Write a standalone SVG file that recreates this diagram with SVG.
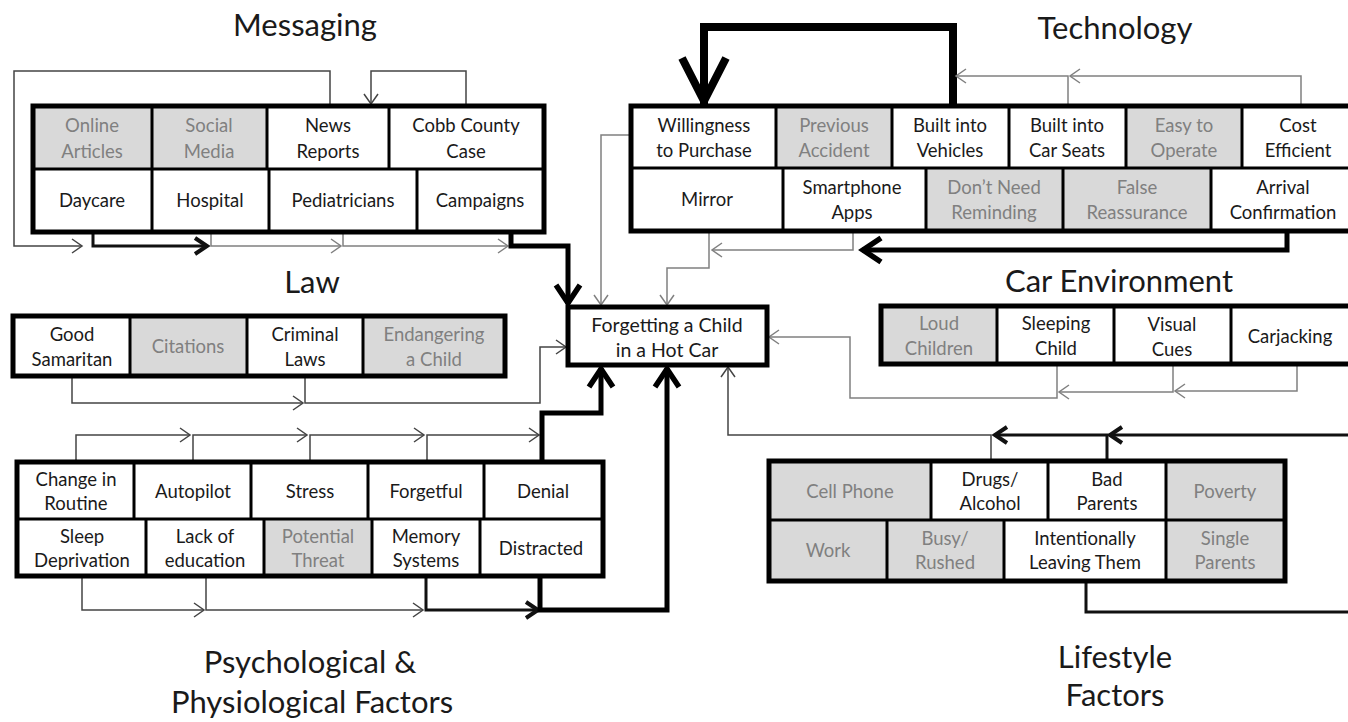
<svg xmlns="http://www.w3.org/2000/svg" width="1348" height="722" viewBox="0 0 1348 722">
<style>
.bg{fill:#fff}
.w{fill:#fff}
.g{fill:#d9d9d9}
.out{fill:none;stroke:#000;stroke-width:5}
.sep{stroke:#000;stroke-width:3;fill:none}
.t{font-family:Lato,"Open Sans","Liberation Sans",sans-serif;font-size:18.5px;fill:#1a1a1a;text-anchor:middle;dominant-baseline:central}
.tg{font-family:Lato,"Open Sans","Liberation Sans",sans-serif;font-size:18.5px;fill:#808080;text-anchor:middle;dominant-baseline:central}
.title{font-family:Lato,"Open Sans","Liberation Sans",sans-serif;font-size:31px;fill:#1a1a1a;text-anchor:middle}
.c{fill:none;stroke:#444;stroke-width:1.5}
.cg{fill:none;stroke:#808080;stroke-width:1.5}
.cm{fill:none;stroke:#111;stroke-width:3}
.cb{fill:none;stroke:#000;stroke-width:5}
.cx{fill:none;stroke:#000;stroke-width:8}
</style>
<defs>
<marker id="a" markerUnits="userSpaceOnUse" markerWidth="20" markerHeight="20" refX="0" refY="0" orient="auto" overflow="visible"><path d="M-10,-7 L0,0 L-10,7" fill="none" stroke="#444" stroke-width="1.5"/></marker>
<marker id="ag" markerUnits="userSpaceOnUse" markerWidth="20" markerHeight="20" refX="0" refY="0" orient="auto" overflow="visible"><path d="M-10,-7 L0,0 L-10,7" fill="none" stroke="#808080" stroke-width="1.5"/></marker>
<marker id="am" markerUnits="userSpaceOnUse" markerWidth="20" markerHeight="20" refX="0" refY="0" orient="auto" overflow="visible"><path d="M-12,-8 L0,0 L-12,8" fill="none" stroke="#111" stroke-width="4"/></marker>
<marker id="ab" markerUnits="userSpaceOnUse" markerWidth="20" markerHeight="20" refX="0" refY="0" orient="auto" overflow="visible"><path d="M-19,-12 L-1,0 L-19,12" fill="none" stroke="#000" stroke-width="5.5"/></marker>
<marker id="ax" markerUnits="userSpaceOnUse" markerWidth="20" markerHeight="20" refX="0" refY="0" orient="auto" overflow="visible"><path d="M-46,-22 L-3,0 L-46,22" fill="none" stroke="#000" stroke-width="8"/></marker>
</defs>
<rect class="bg" x="0" y="0" width="1348" height="722"/>

<g id="titles">
<text class="title" x="305" y="36">Messaging</text>
<text class="title" x="1115" y="39">Technology</text>
<text class="title" x="312" y="293">Law</text>
<text class="title" x="1119" y="292">Car Environment</text>
<text class="title" x="310" y="673">Psychological &amp;</text>
<text class="title" x="312" y="713">Physiological Factors</text>
<text class="title" x="1115" y="668">Lifestyle</text>
<text class="title" x="1115" y="706">Factors</text>
</g>

<g id="connectors">
<!-- Messaging -->
<path class="c" d="M330,106 V71 H14 V246 H82" marker-end="url(#a)"/>
<path class="c" d="M466,106 V71 H371 V104" marker-end="url(#a)"/>
<path class="cm" d="M93,232 V246 H207" marker-end="url(#am)"/>
<path class="cg" d="M211,232 V246 H341" marker-end="url(#ag)"/>
<path class="cg" d="M343,232 V246 H508" marker-end="url(#ag)"/>
<path class="cb" d="M511,232 V246 H568 V304" marker-end="url(#ab)"/>
<!-- Technology -->
<path class="cx" d="M953,106 V27 H704 V104" marker-end="url(#ax)"/>
<path class="cg" d="M1301,106 V76 H1070" marker-end="url(#ag)"/>
<path class="cg" d="M1068,106 V76 H956" marker-end="url(#ag)"/>
<path class="cg" d="M631,135 H601 V305" marker-end="url(#ag)"/>
<path class="cg" d="M853,231 V250 H712" marker-end="url(#ag)"/>
<path class="cb" d="M1287,231 V250 H862" marker-end="url(#ab)"/>
<path class="cg" d="M709,231 V268 H667 V305" marker-end="url(#ag)"/>
<!-- Law -->
<path class="c" d="M72,376 V403 H303" marker-end="url(#a)"/>
<path class="c" d="M305,376 V403 H540 V347 H566" marker-end="url(#a)"/>
<!-- Car environment -->
<path class="cg" d="M1297,364 V391 H1175" marker-end="url(#ag)"/>
<path class="cg" d="M1173,366 V392 H1059" marker-end="url(#ag)"/>
<path class="cg" d="M1057,364 V398 H850 V337 H769" marker-end="url(#ag)"/>
<!-- Psych -->
<path class="c" d="M76,462 V435 H190" marker-end="url(#a)"/>
<path class="c" d="M193,462 V435 H307" marker-end="url(#a)"/>
<path class="c" d="M310,462 V435 H424" marker-end="url(#a)"/>
<path class="c" d="M427,462 V435 H539" marker-end="url(#a)"/>
<path class="cb" d="M542,462 V413 H601 V368" marker-end="url(#ab)"/>
<path class="c" d="M82,576 V610 H204" marker-end="url(#a)"/>
<path class="c" d="M206,576 V610 H423" marker-end="url(#a)"/>
<path class="cm" d="M426,576 V610 H538" marker-end="url(#am)"/>
<path class="cb" d="M540,576 V610 H667 V368" marker-end="url(#ab)"/>
<!-- Lifestyle -->
<path class="c" d="M991,461 V435 H728 V367" marker-end="url(#a)"/>
<path class="cm" d="M1107,461 V435 H995" marker-end="url(#am)"/>
<path class="cm" d="M1350,435 H1110" marker-end="url(#am)"/>
<path class="cm" d="M1086,581 V612 H1350"/>
</g>

<g id="messaging">
<rect class="w" x="33" y="106" width="511" height="126"/>
<rect class="g" x="33" y="106" width="119" height="63"/>
<rect class="g" x="152" y="106" width="115" height="63"/>
<path class="sep" d="M33,169 H544 M152,106 V169 M267,106 V169 M389,106 V169 M152,169 V232 M269,169 V232 M417,169 V232"/>
<rect class="out" x="33" y="106" width="511" height="126"/>
<text class="tg" x="92" y="125">Online</text><text class="tg" x="92" y="151">Articles</text>
<text class="tg" x="209" y="125">Social</text><text class="tg" x="209" y="151">Media</text>
<text class="t" x="328" y="125">News</text><text class="t" x="328" y="151">Reports</text>
<text class="t" x="466" y="125">Cobb County</text><text class="t" x="466" y="151">Case</text>
<text class="t" x="92" y="200">Daycare</text>
<text class="t" x="210" y="200">Hospital</text>
<text class="t" x="343" y="200">Pediatricians</text>
<text class="t" x="480" y="200">Campaigns</text>
</g>

<g id="technology">
<rect class="w" x="631" y="106" width="722" height="125"/>
<rect class="g" x="776" y="106" width="116" height="62"/>
<rect class="g" x="1126" y="106" width="116" height="62"/>
<rect class="g" x="926" y="168" width="137" height="63"/>
<rect class="g" x="1063" y="168" width="148" height="63"/>
<path class="sep" d="M631,168 H1352 M776,106 V168 M892,106 V168 M1009,106 V168 M1126,106 V168 M1242,106 V168 M783,168 V231 M926,168 V231 M1063,168 V231 M1211,168 V231"/>
<rect class="out" x="631" y="106" width="722" height="125"/>
<text class="t" x="704" y="125">Willingness</text><text class="t" x="704" y="150">to Purchase</text>
<text class="tg" x="834" y="125">Previous</text><text class="tg" x="834" y="150">Accident</text>
<text class="t" x="950" y="125">Built into</text><text class="t" x="950" y="150">Vehicles</text>
<text class="t" x="1067" y="125">Built into</text><text class="t" x="1067" y="150">Car Seats</text>
<text class="tg" x="1184" y="125">Easy to</text><text class="tg" x="1184" y="150">Operate</text>
<text class="t" x="1298" y="125">Cost</text><text class="t" x="1298" y="150">Efficient</text>
<text class="t" x="707" y="199">Mirror</text>
<text class="t" x="852" y="187">Smartphone</text><text class="t" x="852" y="212">Apps</text>
<text class="tg" x="994" y="187">Don’t Need</text><text class="tg" x="994" y="212">Reminding</text>
<text class="tg" x="1137" y="187">False</text><text class="tg" x="1137" y="212">Reassurance</text>
<text class="t" x="1283" y="187">Arrival</text><text class="t" x="1283" y="212">Confirmation</text>
</g>

<g id="law">
<rect class="w" x="13" y="316" width="492" height="60"/>
<rect class="g" x="130" y="316" width="117" height="60"/>
<rect class="g" x="363" y="316" width="142" height="60"/>
<path class="sep" d="M130,316 V376 M247,316 V376 M363,316 V376"/>
<rect class="out" x="13" y="316" width="492" height="60"/>
<text class="t" x="72" y="334">Good</text><text class="t" x="72" y="359">Samaritan</text>
<text class="tg" x="188" y="346">Citations</text>
<text class="t" x="305" y="334">Criminal</text><text class="t" x="305" y="359">Laws</text>
<text class="tg" x="434" y="334">Endangering</text><text class="tg" x="434" y="359">a Child</text>
</g>

<g id="center">
<rect class="w" x="568" y="307" width="199" height="58"/>
<rect class="out" x="568" y="307" width="199" height="58"/>
<text class="t" x="667" y="324" style="font-size:19.5px">Forgetting a Child</text>
<text class="t" x="667" y="349" style="font-size:19.5px">in a Hot Car</text>
</g>

<g id="car-environment">
<rect class="w" x="881" y="306" width="471" height="58"/>
<rect class="g" x="881" y="306" width="116" height="58"/>
<path class="sep" d="M997,306 V364 M1114,306 V364 M1231,306 V364"/>
<rect class="out" x="881" y="306" width="471" height="58"/>
<text class="tg" x="939" y="323">Loud</text><text class="tg" x="939" y="348">Children</text>
<text class="t" x="1056" y="323">Sleeping</text><text class="t" x="1056" y="348">Child</text>
<text class="t" x="1172" y="324">Visual</text><text class="t" x="1172" y="349">Cues</text>
<text class="t" x="1290" y="336">Carjacking</text>
</g>

<g id="psych">
<rect class="w" x="17" y="462" width="586" height="114"/>
<rect class="g" x="264" y="519" width="108" height="57"/>
<path class="sep" d="M17,519 H603 M134,462 V519 M251,462 V519 M368,462 V519 M484,462 V519 M146,519 V576 M264,519 V576 M372,519 V576 M480,519 V576"/>
<rect class="out" x="17" y="462" width="586" height="114"/>
<text class="t" x="76" y="479">Change in</text><text class="t" x="76" y="503">Routine</text>
<text class="t" x="193" y="491">Autopilot</text>
<text class="t" x="310" y="491">Stress</text>
<text class="t" x="426" y="491">Forgetful</text>
<text class="t" x="543" y="491">Denial</text>
<text class="t" x="82" y="536">Sleep</text><text class="t" x="82" y="560">Deprivation</text>
<text class="t" x="205" y="536">Lack of</text><text class="t" x="205" y="560">education</text>
<text class="tg" x="318" y="536">Potential</text><text class="tg" x="318" y="560">Threat</text>
<text class="t" x="426" y="536">Memory</text><text class="t" x="426" y="560">Systems</text>
<text class="t" x="541" y="548">Distracted</text>
</g>

<g id="lifestyle">
<rect class="w" x="769" y="461" width="516" height="120"/>
<rect class="g" x="769" y="461" width="162" height="59"/>
<rect class="g" x="1166" y="461" width="119" height="59"/>
<rect class="g" x="769" y="520" width="118" height="61"/>
<rect class="g" x="887" y="520" width="117" height="61"/>
<rect class="g" x="1166" y="520" width="119" height="61"/>
<path class="sep" d="M769,520 H1285 M931,461 V520 M1048,461 V520 M1166,461 V520 M887,520 V581 M1004,520 V581 M1166,520 V581"/>
<rect class="out" x="769" y="461" width="516" height="120"/>
<text class="tg" x="850" y="491">Cell Phone</text>
<text class="t" x="990" y="479">Drugs/</text><text class="t" x="990" y="503">Alcohol</text>
<text class="t" x="1107" y="479">Bad</text><text class="t" x="1107" y="503">Parents</text>
<text class="tg" x="1225" y="491">Poverty</text>
<text class="tg" x="828" y="550">Work</text>
<text class="tg" x="945" y="538">Busy/</text><text class="tg" x="945" y="562">Rushed</text>
<text class="t" x="1085" y="538">Intentionally</text><text class="t" x="1085" y="562">Leaving Them</text>
<text class="tg" x="1225" y="538">Single</text><text class="tg" x="1225" y="562">Parents</text>
</g>
</svg>
